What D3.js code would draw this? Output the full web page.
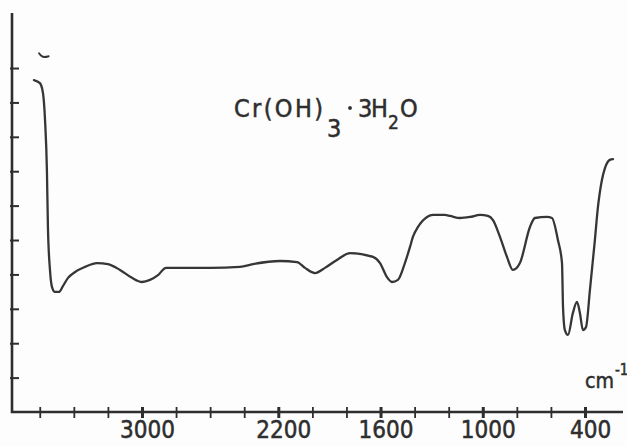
<!DOCTYPE html>
<html>
<head>
<meta charset="utf-8">
<script src="https://cdn.jsdelivr.net/npm/d3@7"></script>
<style>
    html, body { margin: 0; padding: 0; background: #fdfdfd; }
    #main { width: 627px; height: 446px; }
    svg { display: block; }
    .lettering {
        font-family: "Liberation Sans Narrow", "DejaVu Sans Condensed", "Liberation Sans", sans-serif;
        stroke: #2e2e2e;
        stroke-width: 0.5px;
    }
</style>
</head>
<body>
<div id="main"></div>
<script>

// IR spectrum of Cr(OH)3 . 3H2O
var wavenumbers = [
    3634, 3599, 3581, 3569, 3558, 3552, 3540, 3528, 3511, 3487,
    3464, 3434, 3393, 3334, 3264, 3200, 3129, 3059, 3000, 2953,
    2906, 2859, 2748, 2601, 2425, 2349, 2190, 2090, 2043, 1985,
    1926, 1856, 1779, 1644, 1603, 1562, 1533, 1498, 1457, 1427,
    1410, 1380, 1327, 1292, 1222, 1192, 1134, 1075, 1016, 970,
    940, 899, 858, 823, 782, 723, 694, 623, 594, 559,
    535, 529, 518, 500, 471, 447, 430, 412, 394, 371,
    342, 324, 301, 283, 254, 236
];
var transmittance = [
    96.5, 95.6, 92.7, 84.9, 70.3, 53.8, 41.3, 36.3, 34.9, 34.9,
    36.6, 39.0, 40.7, 42.2, 43.3, 43.0, 41.3, 39.0, 37.8, 38.4,
    39.8, 41.9, 41.9, 41.9, 42.2, 43.0, 43.9, 43.6, 41.9, 40.4,
    41.9, 44.2, 46.2, 45.1, 43.3, 39.2, 37.8, 38.4, 43.3, 48.0,
    50.9, 53.8, 56.7, 57.3, 57.3, 57.0, 56.4, 56.7, 57.3, 57.0,
    55.8, 50.9, 45.1, 41.3, 43.3, 53.8, 56.4, 56.7, 56.4, 50.0,
    43.3, 30.5, 23.8, 22.4, 28.8, 32.0, 28.8, 23.8, 24.7, 35.5,
    50.0, 59.6, 67.4, 70.9, 73.3, 73.5
];

// little pen mark above the start of the trace
var penWavenumbers = [3604, 3590, 3572, 3548];
var penTransmittance = [104.3, 103.4, 103.1, 103.4];

var xTicks = [3600, 3400, 3200, 3000, 2800, 2600, 2400, 2200, 2000,
              1800, 1600, 1400, 1200, 1000, 800, 600, 400];
var xLabels = [3000, 2200, 1600, 1000, 400];
var yTicks = [10, 20, 30, 40, 50, 60, 70, 80, 90, 100];

var width = 627, height = 446;
var ink = "#2e2e2e";

var svg = d3.select("#main").append("svg")
    .attr("width", width)
    .attr("height", height);

// scales (wavenumber runs right to left)
var xScale = d3.scaleLinear().domain([3757, 177]).range([13, 623]);
var yScale = d3.scaleLinear().domain([0, 116]).range([412, 13]);

// x axis
var xAxis = d3.axisBottom(xScale)
    .tickValues(xTicks)
    .tickSizeOuter(0)
    .tickSizeInner(6)
    .tickFormat(function (d) { return xLabels.indexOf(d) >= 0 ? d : ""; });

var xAxisEl = svg.append("g")
    .attr("transform", "translate(0," + yScale(0) + ")")
    .call(xAxis);

xAxisEl.select(".domain").remove();
xAxisEl.selectAll(".tick line")
    .attr("y1", -5)
    .attr("y2", 6)
    .attr("stroke", ink)
    .attr("stroke-width", function (d) { return xLabels.indexOf(d) >= 0 ? 3 : 1.8; });
xAxisEl.selectAll(".tick text")
    .classed("lettering", true)
    .attr("y", 26)
    .attr("dy", 0)
    .attr("dx", 5)
    .attr("fill", ink)
    .attr("font-size", null)
    .attr("font-family", null)
    .style("font-size", "24px");

// y axis, ticks point inward
var yAxis = d3.axisRight(yScale)
    .tickValues(yTicks)
    .tickSizeOuter(0)
    .tickSizeInner(7)
    .tickFormat("");

var yAxisEl = svg.append("g")
    .attr("transform", "translate(" + (xScale(3757) - 1) + ",0)")
    .call(yAxis);
yAxisEl.select(".domain").remove();
yAxisEl.selectAll(".tick line")
    .attr("x1", -2)
    .attr("stroke", ink)
    .attr("stroke-width", 2);

// axis lines
svg.append("path")
    .attr("d", "M" + (xScale(3757) - 1) + "," + yScale(116) +
               "V" + yScale(0) + "H" + xScale(177))
    .attr("fill", "none")
    .attr("stroke", ink)
    .attr("stroke-width", 2.6);

// spectrum trace
var points = wavenumbers.map(function (w, i) { return [w, transmittance[i]]; });
var line = d3.line()
    .x(function (d) { return xScale(d[0]); })
    .y(function (d) { return yScale(d[1]); })
    .curve(d3.curveMonotoneX);

svg.append("path")
    .datum(points)
    .attr("d", line)
    .attr("fill", "none")
    .attr("stroke", "#363636")
    .attr("stroke-width", 2.3)
    .attr("stroke-linejoin", "round")
    .attr("stroke-linecap", "round");

var pen = penWavenumbers.map(function (w, i) { return [w, penTransmittance[i]]; });
svg.append("path")
    .datum(pen)
    .attr("d", d3.line()
        .x(function (d) { return xScale(d[0]); })
        .y(function (d) { return yScale(d[1]); })
        .curve(d3.curveBasis))
    .attr("fill", "none")
    .attr("stroke", "#333")
    .attr("stroke-width", 2)
    .attr("stroke-linecap", "round");

// formula label
var title = svg.append("g")
    .attr("class", "lettering")
    .attr("fill", ink)
    .style("font-size", "25px");
title.append("text").attr("x", 234).attr("y", 117)
    .attr("textLength", 89).attr("lengthAdjust", "spacing")
    .text("Cr(OH)");
title.append("text").attr("x", 327).attr("y", 137).text("3");
title.append("circle").attr("cx", 350).attr("cy", 108).attr("r", 1.7);
title.append("text").attr("x", 358).attr("y", 117)
    .attr("textLength", 30).attr("lengthAdjust", "spacing").text("3H");
title.append("text").attr("x", 388).attr("y", 129).style("font-size", "19px").text("2");
title.append("text").attr("x", 400).attr("y", 117).text("O");

// unit label
var unit = svg.append("g").attr("class", "lettering").attr("fill", ink);
unit.append("text").attr("x", 585).attr("y", 388)
    .attr("textLength", 29).attr("lengthAdjust", "spacingAndGlyphs")
    .style("font-size", "22px").text("cm");
unit.append("text").attr("x", 615).attr("y", 375)
    .style("font-size", "15px").text("-1");

</script>
</body>
</html>
